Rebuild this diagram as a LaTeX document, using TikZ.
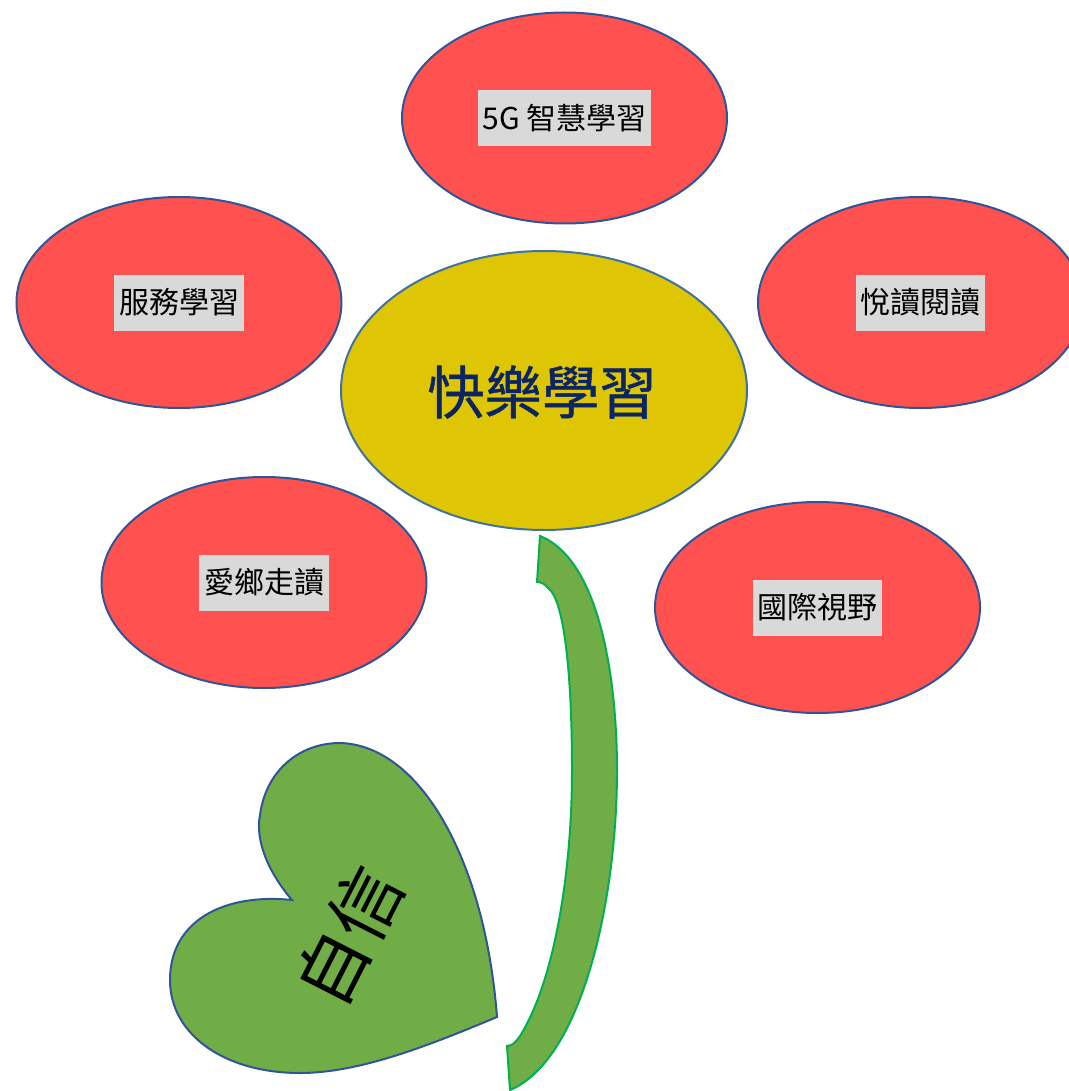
\documentclass[tikz,border=0pt]{standalone}
\usepackage{fontspec}
\setmainfont{Noto Sans CJK TC}
\newfontfamily\corefont[FakeBold=0.8]{Noto Sans CJK TC}
\usetikzlibrary{shapes.geometric}
\definecolor{petalred}{HTML}{FF5250}
\definecolor{petalline}{HTML}{2F5597}
\definecolor{coreyellow}{HTML}{DFC605}
\definecolor{coreline}{HTML}{41719C}
\definecolor{leafgreen}{HTML}{70AD47}
\definecolor{stemline}{HTML}{00B050}
\definecolor{labelgray}{HTML}{D9D9D9}
\definecolor{navy}{HTML}{0B2563}
\tikzset{
  petal/.style={ellipse, draw=petalline, fill=petalred, line width=1.5pt,
    minimum width=243.75pt, minimum height=158.25pt, inner sep=0pt},
  core/.style={ellipse, draw=coreline, fill=coreyellow, line width=1.5pt,
    minimum width=304.5pt, minimum height=209.25pt, inner sep=0pt},
  lbl/.style={fill=labelgray, inner xsep=3.5pt, inner ysep=0pt, minimum height=42pt,
    font=\fontsize{22.5}{27}\selectfont, text=black},
  coretext/.style={font=\corefont\fontsize{43}{50}\selectfont, text=navy},
  leaf/.style={draw=petalline, fill=leafgreen, line width=1.5pt},
  stem/.style={draw=stemline, fill=leafgreen, line width=1.5pt},
}
\begin{document}
\begin{tikzpicture}[x=0.75pt,y=-0.75pt]
\useasboundingbox (0,0) rectangle (1068,1091);
% petals
\node[petal] (ptop) at (564.5,118) {};
\node[petal] (pleft) at (179,302.5) {};
\node[petal] (pright) at (920.5,302.5) {};
\node[petal] (plow) at (264,582.5) {};
\node[petal] (pright2) at (817.5,607.5) {};
\node[lbl] (ltop) at (ptop.center) {5G 智慧學習};
\node[lbl] (lleft) at (pleft.center) {服務學習};
\node[lbl] (lright) at (pright.center) {悅讀閱讀};
\node[lbl] (llow) at (plow.center) {愛鄉走讀};
\node[lbl] (lright2) at (pright2.center) {國際視野};
% core
\node[core] (core) at (544,390.5) {};
\node[coretext] (coretxt) at (542,392) {快樂學習};
% stem
\path[stem] (540,536) .. controls (600,560) and (617,680) .. (617,770)
  .. controls (617,900) and (582,1060) .. (510,1090) -- (507,1046)
  .. controls (512,1046) and (516,1042) .. (520,1036)
  .. controls (555,980) and (572,870) .. (572,770)
  .. controls (572,680) and (565,600) .. (548,588)
  .. controls (545,584) and (541,582) .. (537,582) -- cycle;
% heart leaf
\path[leaf] (292,900) .. controls (268,872) and (255,840) .. (260,815)
  .. controls (266,770) and (300,743) .. (340,743)
  .. controls (420,745) and (485,860) .. (497,1017)
  .. controls (430,1045) and (360,1073) .. (300,1073)
  .. controls (225,1073) and (170,1035) .. (170,980)
  .. controls (170,920) and (225,893) .. (292,900) -- cycle;
\node[rotate=63, font=\fontsize{54}{60}\selectfont, text=black] (leaftxt) at (349,936) {自信};
\end{tikzpicture}
\end{document}
